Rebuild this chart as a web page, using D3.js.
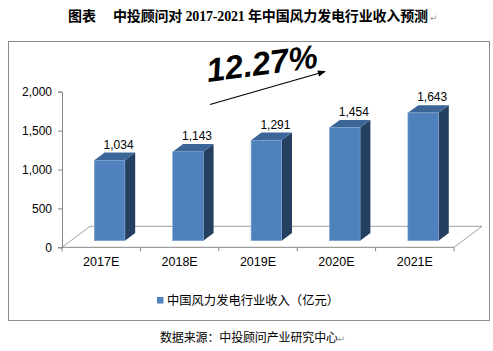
<!DOCTYPE html>
<html>
<head>
<meta charset="utf-8">
<script src="https://cdn.jsdelivr.net/npm/d3@7"></script>
<style>
  body { margin: 0; background: #fff; }
  svg { display: block; }
</style>
</head>
<body>
<div id="chart"></div>
<script>
var w = 493;
var h = 351;

var years = ["2017E", "2018E", "2019E", "2020E", "2021E"];
var revenue = [1034, 1143, 1291, 1454, 1643];
var yTicks = [0, 500, 1000, 1500, 2000];
var seriesName = "中国风力发电行业收入（亿元）";
var growth = "12.27%";

var svg = d3.select("#chart").append("svg")
    .attr("width", w)
    .attr("height", h);

// chart frame
svg.append("rect")
    .attr("x", 8.5).attr("y", 41.5)
    .attr("width", 481).attr("height", 279)
    .attr("fill", "none")
    .attr("stroke", "#8c8c8c");

var xScale = d3.scaleBand()
    .domain(years)
    .range([62, 454]);

var yScale = d3.scaleLinear()
    .domain([0, 2000])
    .range([247.3, 91.7]);

// 3d offsets
var floorDx = 28, floorDy = -21;
var barDx = 10.3, barDy = -7.7;
var offX = 8.4, offY = -6.6;
var barW = xScale.bandwidth() * 0.39;

// floor
var x0 = xScale.range()[0], x1 = xScale.range()[1], y0 = yScale(0);
svg.append("path")
    .attr("d", "M" + x0 + "," + y0 + "L" + (x0 + floorDx) + "," + (y0 + floorDy) +
        "L" + (x1 + floorDx) + "," + (y0 + floorDy) + "L" + x1 + "," + y0)
    .attr("fill", "none")
    .attr("stroke", "#a0a0a0")
    .attr("stroke-width", 1);

// y axis
var yAxis = svg.append("g")
    .attr("transform", "translate(62,0)")
    .call(d3.axisLeft(yScale).tickValues(yTicks).tickSize(4).tickPadding(6)
        .tickFormat(d3.format(",")));
yAxis.select(".domain").attr("stroke", "#868686");
yAxis.selectAll(".tick line").attr("stroke", "#868686");
yAxis.selectAll("text")
    .attr("font-family", "Liberation Sans, Arial, sans-serif")
    .attr("font-size", "12px")
    .attr("fill", "#000");

// x axis
var xAxis = svg.append("g")
    .attr("transform", "translate(0," + y0 + ")")
    .call(d3.axisBottom(xScale).tickSize(0).tickPadding(10));
xAxis.select(".domain").attr("stroke", "#868686").attr("d", "M" + x0 + ",0H" + x1);
xAxis.selectAll("text")
    .attr("font-family", "Liberation Sans, Arial, sans-serif")
    .attr("font-size", "12.5px")
    .attr("fill", "#000");
svg.selectAll(".xtick")
    .data(years.concat(["end"]))
    .enter()
    .append("line")
    .attr("class", "xtick")
    .attr("x1", function(d) { return d == "end" ? x1 : xScale(d); })
    .attr("x2", function(d) { return d == "end" ? x1 : xScale(d); })
    .attr("y1", y0).attr("y2", y0 + 4)
    .attr("stroke", "#868686");

// bars
var bars = svg.selectAll(".bar")
    .data(years)
    .enter()
    .append("g")
    .attr("class", "bar");

function barLeft(d) { return xScale(d) + xScale.bandwidth() / 2 + offX - barW / 2; }
function barTop(d, i) { return yScale(revenue[i]) + offY; }
var base = y0 + offY;

bars.append("path")
    .attr("d", function(d, i) {
        var a = barLeft(d) + barW, t = barTop(d, i);
        return "M" + a + "," + t + "L" + (a + barDx) + "," + (t + barDy) +
            "L" + (a + barDx) + "," + (base + barDy) + "L" + a + "," + base + "Z";
    })
    .attr("fill", "#243f60");

bars.append("path")
    .attr("d", function(d, i) {
        var a = barLeft(d), t = barTop(d, i);
        return "M" + a + "," + t + "L" + (a + barDx) + "," + (t + barDy) +
            "L" + (a + barW + barDx) + "," + (t + barDy) + "L" + (a + barW) + "," + t + "Z";
    })
    .attr("fill", "#3d6698");

bars.append("rect")
    .attr("x", function(d) { return barLeft(d); })
    .attr("y", function(d, i) { return barTop(d, i); })
    .attr("width", barW)
    .attr("height", function(d, i) { return base - barTop(d, i); })
    .attr("fill", "#4f81bd")
    .attr("stroke", "#7ea3d0")
    .attr("stroke-width", 0.6);

// value labels
bars.append("text")
    .text(function(d, i) { return d3.format(",")(revenue[i]); })
    .attr("text-anchor", "middle")
    .attr("x", function(d) { return barLeft(d) + barW / 2 + 9; })
    .attr("y", function(d, i) { return barTop(d, i) + barDy - 4; })
    .attr("font-family", "Liberation Sans, Arial, sans-serif")
    .attr("font-size", "12px")
    .attr("fill", "#000");

// growth arrow + label
svg.append("defs").append("marker")
    .attr("id", "arrow")
    .attr("viewBox", "0 0 10 10")
    .attr("refX", 9).attr("refY", 5)
    .attr("markerWidth", 7).attr("markerHeight", 6)
    .attr("orient", "auto")
    .append("path")
    .attr("d", "M0,1L10,5L0,9Z")
    .attr("fill", "#000");

svg.append("line")
    .attr("x1", 210).attr("y1", 104.5)
    .attr("x2", 325).attr("y2", 71.5)
    .attr("stroke", "#000")
    .attr("stroke-width", 1.3)
    .attr("marker-end", "url(#arrow)");

svg.append("text")
    .text(growth)
    .attr("transform", "translate(208,82) rotate(-7.5)")
    .attr("font-family", "Liberation Sans, Arial, sans-serif")
    .attr("font-size", "33px")
    .attr("font-weight", "bold")
    .attr("font-style", "italic")
    .attr("fill", "#000");

// legend
svg.append("rect")
    .attr("x", 157).attr("y", 297)
    .attr("width", 6.5).attr("height", 6.5)
    .attr("fill", "#4f81bd");
svg.append("text")
    .text(seriesName)
    .attr("x", 167).attr("y", 305)
    .attr("textLength", 172).attr("lengthAdjust", "spacingAndGlyphs")
    .attr("font-family", "Noto Sans CJK SC, sans-serif")
    .attr("font-size", "12.5px")
    .attr("fill", "#000");

// title
var title = svg.append("text")
    .attr("y", 21)
    .attr("font-family", "Liberation Serif, Noto Sans CJK SC, serif")
    .attr("font-size", "14px")
    .attr("font-weight", "bold")
    .attr("fill", "#000");
title.append("tspan").attr("x", 68).text("图表");
title.append("tspan").attr("x", 113)
    .attr("textLength", 315).attr("lengthAdjust", "spacing")
    .text("中投顾问对 2017-2021 年中国风力发电行业收入预测");
title.append("tspan")
    .attr("x", 430)
    .attr("font-family", "DejaVu Sans, sans-serif")
    .attr("font-size", "9px")
    .attr("font-weight", "normal")
    .attr("fill", "#999")
    .text("↵");

// source
var src = svg.append("text")
    .attr("y", 342)
    .attr("font-family", "Noto Sans CJK SC, sans-serif")
    .attr("font-size", "12px")
    .attr("fill", "#000");
src.append("tspan").attr("x", 160)
    .attr("textLength", 178).attr("lengthAdjust", "spacing")
    .text("数据来源：中投顾问产业研究中心");
src.append("tspan")
    .attr("font-family", "DejaVu Sans, sans-serif")
    .attr("font-size", "9px")
    .attr("fill", "#999")
    .text("↵");
</script>
</body>
</html>
